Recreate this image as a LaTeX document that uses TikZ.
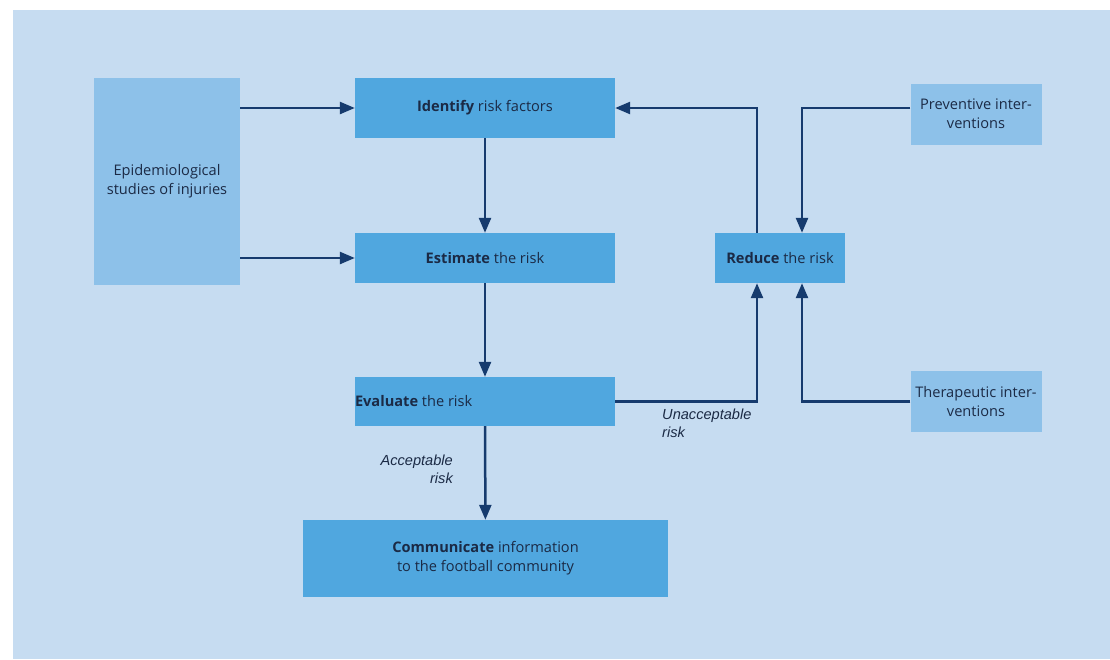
\documentclass[tikz,border=0pt]{standalone}
\usepackage{fontspec}
\setmainfont{Open Sans}
\newfontfamily\labelfont{Liberation Sans}
\usetikzlibrary{arrows.meta,calc}
\definecolor{bgblue}{HTML}{C6DCF1}
\definecolor{darkbox}{HTML}{50A7DF}
\definecolor{lightbox}{HTML}{8DC1E9}
\definecolor{arrowc}{HTML}{163B6E}
\definecolor{textc}{HTML}{1B2A45}
\tikzset{
  basebox/.style={inner sep=0pt, text=textc, font=\fontsize{14.6}{19}\selectfont, align=center},
  dbox/.style={basebox, fill=darkbox},
  lbox/.style={basebox, fill=lightbox},
  arr/.style={draw=arrowc, line width=2.5pt, -{Triangle[length=15pt,width=12pt]}},
  lbl/.style={inner sep=0pt, text=textc, font=\labelfont\itshape\fontsize{14.6}{18}\selectfont}
}
\begin{document}
\begin{tikzpicture}[x=1pt,y=-1pt]
\useasboundingbox (0,0) rectangle (1110,659);
\fill[white] (0,0) rectangle (1110,659);
\fill[bgblue] (13,10) rectangle (1110,659);

\node[lbox, minimum width=146pt, minimum height=207pt] (epi) at (167,181.5) {Epidemiological\\studies of injuries};
\node[dbox, minimum width=260pt, minimum height=60pt] (ident) at (485,108) {\textbf{Identify} risk factors};
\node[dbox, minimum width=260pt, minimum height=50pt] (est) at (485,258) {\textbf{Estimate} the risk};
\node[dbox, minimum width=260pt, minimum height=49pt] (eval) at (485,401.5) {};
\node[basebox, anchor=west] (evaltxt) at (eval.west) {\textbf{Evaluate} the risk};
\node[dbox, minimum width=365pt, minimum height=77pt] (comm) at (485.5,558.5) {\textbf{Communicate} information\\to the football community};
\node[dbox, minimum width=130pt, minimum height=50pt] (reduce) at (780,258) {\textbf{Reduce} the risk};
\node[lbox, minimum width=131pt, minimum height=61pt] (prev) at (976,114) {Preventive inter-\\ventions};
\node[lbox, minimum width=131pt, minimum height=61pt] (ther) at (976,401.5) {Therapeutic inter-\\ventions};

\coordinate (rl) at ($(reduce.south)+(-23,0)$);
\coordinate (rr) at ($(reduce.south)+(22,0)$);
\coordinate (rlt) at ($(reduce.north)+(-23,0)$);
\coordinate (rrt) at ($(reduce.north)+(22,0)$);
\coordinate (pv) at ($(prev.west)+(0,-6)$);

\draw[arr] (epi.east |- ident.west) -- (ident.west);
\draw[arr] (epi.east |- est.west) -- (est.west);
\draw[arr] (ident) -- (est);
\draw[arr] (est) -- (eval);
\draw[arr] (eval) -- (comm);
\draw[arr] (eval.east) -| (rl);
\draw[arr] (rlt) |- (ident.east);
\draw[arr] (pv) -| (rrt);
\draw[arr] (ther.west) -| (rr);

\node[lbl, anchor=north east, align=right] (acc) at (453,455) {Acceptable\\risk};
\node[lbl, anchor=north west, align=left] (unacc) at (662,409) {Unacceptable\\risk};
\end{tikzpicture}
\end{document}
